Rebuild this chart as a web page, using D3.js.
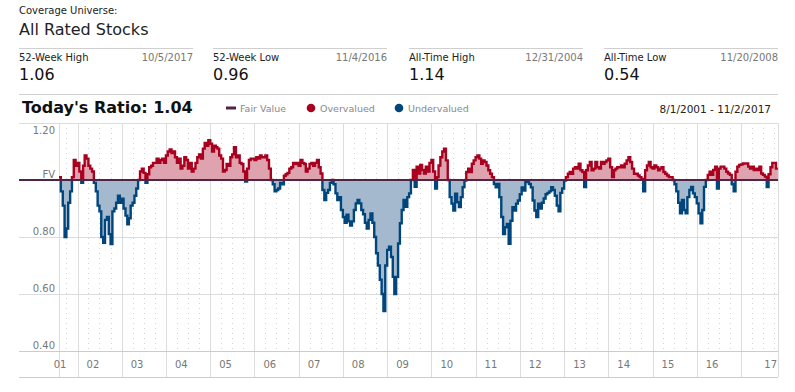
<!DOCTYPE html>
<html><head><meta charset="utf-8">
<script src="https://cdn.jsdelivr.net/npm/d3@7"></script>
<style>
body{margin:0;background:#fff;}
svg text{font-family:"DejaVu Sans",Verdana,sans-serif;}
</style></head><body>
<svg id="c" width="795" height="392"></svg>
<script>
// ---------- data ----------
const universeLabel = "Coverage Universe:";
const universeName = "All Rated Stocks";
const statLabels = ["52-Week High", "52-Week Low", "All-Time High", "All-Time Low"];
const statDates = ["10/5/2017", "11/4/2016", "12/31/2004", "11/20/2008"];
const statValues = ["1.06", "0.96", "1.14", "0.54"];
const todayRatio = "1.04";
const legendLabels = ["Fair Value", "Overvalued", "Undervalued"];
const dateRange = "8/1/2001 - 11/2/2017";
const yTicks = [1.2, 1.0, 0.8, 0.6, 0.4];
const yTickLabels = ["1.20", "FV", "0.80", "0.60", "0.40"];
const yearTicks = [2001,2002,2003,2004,2005,2006,2007,2008,2009,2010,2011,2012,2013,2014,2015,2016,2017];
const yearLabels = ["01","02","03","04","05","06","07","08","09","10","11","12","13","14","15","16","17"];

// semi-monthly ratio readings (1st and 16th of each month)
const ratio2001 = [1.01,0.96,0.91,0.80,0.83,0.92,0.96,1.01,1.07,1.05]; // from Aug
const ratio2002 = [1.06,1.03,0.99,1.05,1.086,1.075,1.05,1.04,1.03,0.99,0.96,0.91,0.89,0.80,0.78,0.86,0.87,0.81,0.775,0.89,0.90,0.92,0.945,0.92];
const ratio2003 = [0.934,0.90,0.875,0.845,0.866,0.91,0.92,0.945,0.97,1.0,1.03,1.04,1.025,0.99,1.02,1.045,1.05,1.06,1.06,1.075,1.06,1.07,1.075,1.06];
const ratio2004 = [1.086,1.10,1.107,1.095,1.10,1.08,1.06,1.075,1.04,1.05,1.08,1.07,1.04,1.06,1.03,1.04,1.06,1.08,1.09,1.075,1.11,1.13,1.12,1.14];
const ratio2005 = [1.127,1.10,1.12,1.115,1.11,1.086,1.075,1.03,1.035,1.056,1.05,1.08,1.09,1.115,1.08,1.086,1.06,1.056,1.03,0.995,1.04,1.07,1.075,1.075];
const ratio2006 = [1.07,1.08,1.075,1.086,1.08,1.08,1.086,1.07,1.04,1.0,0.985,0.96,0.965,0.97,0.99,0.985,1.015,1.02,1.025,1.04,1.045,1.06,1.056,1.06];
const ratio2007 = [1.05,1.07,1.06,1.056,1.03,1.04,1.056,1.06,1.05,1.06,1.07,1.045,1.023,0.965,0.93,0.955,0.965,0.99,1.0,0.985,0.953,0.93,0.94,0.895];
const ratio2008 = [0.87,0.85,0.878,0.855,0.84,0.855,0.895,0.918,0.93,0.918,0.895,0.88,0.85,0.83,0.86,0.883,0.85,0.80,0.743,0.70,0.65,0.60,0.54,0.70];
const ratio2009 = [0.755,0.766,0.73,0.66,0.60,0.66,0.777,0.848,0.895,0.93,0.906,0.94,0.953,1.0,1.035,0.976,1.047,1.023,1.053,1.035,1.023,1.047,1.03,1.06];
const ratio2010 = [1.07,1.03,0.97,1.01,1.051,1.08,1.10,1.11,1.069,1.0,0.94,0.917,0.893,0.952,0.922,0.905,0.94,0.975,0.998,1.028,1.04,1.028,1.057,1.069];
const ratio2011 = [1.08,1.086,1.075,1.057,1.069,1.063,1.051,1.034,1.022,1.01,0.986,0.974,0.986,0.94,0.87,0.81,0.834,0.846,0.776,0.857,0.905,0.893,0.917,0.928];
const ratio2012 = [0.95,0.974,0.963,0.993,0.998,0.986,0.974,0.928,0.893,0.87,0.917,0.90,0.92,0.935,0.95,0.955,0.96,0.975,0.965,0.945,0.91,0.89,0.955,0.97];
const ratio2013 = [0.998,1.01,1.022,1.028,1.022,1.04,1.045,1.04,1.057,1.034,1.028,0.975,1.034,1.051,1.063,1.034,1.04,1.063,1.045,1.04,1.063,1.057,1.063,1.069];
const ratio2014 = [1.075,1.045,1.01,1.034,1.04,1.045,1.045,1.051,1.045,1.057,1.069,1.08,1.063,1.04,1.022,1.022,1.016,1.01,1.004,0.96,1.034,1.051,1.063,1.045];
const ratio2015 = [1.04,1.051,1.045,1.034,1.04,1.045,1.028,1.022,1.016,1.01,1.01,1.0,0.985,0.96,0.92,0.883,0.93,0.895,0.883,0.94,0.965,0.976,0.953,0.94];
const ratio2016 = [0.918,0.883,0.848,0.895,0.976,1.0,1.018,1.029,1.018,1.035,1.047,0.97,1.04,1.047,1.047,1.04,1.029,1.023,1.018,0.985,0.96,1.029,1.047,1.053];
const ratio2017 = [1.055,1.058,1.058,1.058,1.047,1.04,1.047,1.035,1.04,1.035,1.047,1.023,1.018,1.012,0.975,1.02,1.045,1.06,1.06,1.04,1.04]; // to Nov 1

const yearSeries = [
  [2001, 7, ratio2001],[2002, 0, ratio2002],[2003, 0, ratio2003],[2004, 0, ratio2004],
  [2005, 0, ratio2005],[2006, 0, ratio2006],[2007, 0, ratio2007],[2008, 0, ratio2008],
  [2009, 0, ratio2009],[2010, 0, ratio2010],[2011, 0, ratio2011],[2012, 0, ratio2012],
  [2013, 0, ratio2013],[2014, 0, ratio2014],[2015, 0, ratio2015],[2016, 0, ratio2016],
  [2017, 0, ratio2017]
];
const data = yearSeries.flatMap(([yr, m0, arr]) =>
  arr.map((v, i) => ({date: new Date(yr, m0 + Math.floor(i / 2), i % 2 ? 16 : 1), v})));

// ---------- chart ----------
const svg = d3.select("#c");
const startDate = new Date(2001, 7, 1), endDate = new Date(2017, 10, 2);
const L = 59, R = 778, T = 123, B = 351, BB = 377, XL = 19;
const x = d3.scaleTime().domain([startDate, endDate]).range([L, R]);
const y = d3.scaleLinear().domain([0.4, 1.2]).range([B, T]);
const px = v => Math.round(v) + 0.5;

// header
svg.append("text").attr("x", XL).attr("y", 14).attr("font-size", 10).attr("fill", "#222").text(universeLabel);
svg.append("text").attr("x", XL).attr("y", 35).attr("font-size", 16).attr("fill", "#222").text(universeName);
const blockX = [19, 213, 409, 604], blockW = 174;
statLabels.forEach((lab, i) => {
  const bx = blockX[i];
  svg.append("line").attr("x1", bx).attr("x2", bx + blockW).attr("y1", 48.5).attr("y2", 48.5).attr("stroke", "#cfcfcf");
  svg.append("text").attr("x", bx).attr("y", 61).attr("font-size", 10).attr("fill", "#222").text(lab);
  svg.append("text").attr("x", bx + blockW).attr("y", 61).attr("font-size", 10).attr("fill", "#777").attr("text-anchor", "end").text(statDates[i]);
  svg.append("text").attr("x", bx).attr("y", 80).attr("font-size", 16).attr("fill", "#111").text(statValues[i]);
});
svg.append("line").attr("x1", XL).attr("x2", R).attr("y1", 94.5).attr("y2", 94.5).attr("stroke", "#cfcfcf");

svg.append("text").attr("x", 22).attr("y", 113).attr("font-size", 16).attr("font-weight", "bold").attr("fill", "#111").text("Today's Ratio: " + todayRatio);

// legend
const colFV = "#4f2446", colRed = "#a9001f", colBlue = "#00467d";
const colPink = "#dea3ae", colLightBlue = "#a4b9cd";
svg.append("line").attr("x1", 226).attr("x2", 236).attr("y1", 108).attr("y2", 108).attr("stroke", colFV).attr("stroke-width", 3);
svg.append("text").attr("x", 240).attr("y", 112).attr("font-size", 9.5).attr("fill", "#888").text(legendLabels[0]);
svg.append("circle").attr("cx", 311).attr("cy", 108).attr("r", 4.3).attr("fill", colRed);
svg.append("text").attr("x", 320).attr("y", 112).attr("font-size", 9.5).attr("fill", "#888").text(legendLabels[1]);
svg.append("circle").attr("cx", 399).attr("cy", 108).attr("r", 4.3).attr("fill", colBlue);
svg.append("text").attr("x", 408).attr("y", 112).attr("font-size", 9.5).attr("fill", "#888").text(legendLabels[2]);
svg.append("text").attr("x", 771).attr("y", 113).attr("font-size", 10.5).attr("fill", "#222").attr("text-anchor", "end").text(dateRange);

// grid: quarterly dotted lines
const quarters = d3.timeMonth.every(3).range(startDate, endDate).filter(d => d.getMonth() !== 0);
svg.append("g").selectAll("line").data(quarters).join("line")
  .attr("x1", d => px(x(d))).attr("x2", d => px(x(d))).attr("y1", T).attr("y2", B)
  .attr("stroke", "#d4d4d4").attr("stroke-dasharray", "1,4");
// year lines
const yearDates = [startDate].concat(d3.timeYear.range(new Date(2002,0,1), endDate));
svg.append("g").selectAll("line").data(yearDates).join("line")
  .attr("x1", d => px(x(d))).attr("x2", d => px(x(d))).attr("y1", T).attr("y2", BB)
  .attr("stroke", "#dcdcdc");
svg.append("line").attr("x1", R + 0.5).attr("x2", R + 0.5).attr("y1", T).attr("y2", BB).attr("stroke", "#dcdcdc");
// horizontal grid
svg.append("g").selectAll("line").data(yTicks.filter(v => v !== 1.0)).join("line")
  .attr("x1", XL).attr("x2", R).attr("y1", d => px(y(d))).attr("y2", d => px(y(d)))
  .attr("stroke", d => d === 0.4 ? "#cccccc" : "#dcdcdc");
svg.append("line").attr("x1", XL).attr("x2", R).attr("y1", BB + 0.5).attr("y2", BB + 0.5).attr("stroke", "#cccccc");

// y labels
svg.append("g").selectAll("text").data(yTicks).join("text")
  .attr("x", 55).attr("text-anchor", "end").attr("font-size", 10).attr("fill", "#777")
  .attr("y", d => d === 1.2 ? y(d) + 10.5 : y(d) - 2.5)
  .text((d, i) => yTickLabels[i]);

// x labels
svg.append("g").selectAll("text").data(yearTicks).join("text")
  .attr("font-size", 10).attr("fill", "#777").attr("y", 368)
  .attr("x", (d, i) => i === 0 ? x(startDate) + 1 : (i === yearTicks.length - 1 ? R - 1 : x(new Date(d, 0, 1)) + 9))
  .attr("text-anchor", (d, i) => i === 0 ? "middle" : (i === yearTicks.length - 1 ? "end" : "start"))
  .text((d, i) => yearLabels[i]);

// clip paths
const defs = svg.append("defs");
const yFV = y(1.0);
defs.append("clipPath").attr("id", "above").append("rect").attr("x", L).attr("y", T - 10).attr("width", R - L).attr("height", yFV - T + 10);
defs.append("clipPath").attr("id", "below").append("rect").attr("x", L).attr("y", yFV).attr("width", R - L).attr("height", B - yFV + 10);

const area = d3.area().curve(d3.curveStepAfter).x(d => x(d.date)).y0(yFV).y1(d => y(d.v));
const line = d3.line().curve(d3.curveStepAfter).x(d => x(d.date)).y(d => y(d.v));

svg.append("path").datum(data).attr("d", area).attr("fill", colPink).attr("clip-path", "url(#above)");
svg.append("path").datum(data).attr("d", area).attr("fill", colLightBlue).attr("clip-path", "url(#below)");
svg.append("path").datum(data).attr("d", line).attr("fill", "none").attr("stroke", colRed).attr("stroke-width", 2.4).attr("clip-path", "url(#above)");
svg.append("path").datum(data).attr("d", line).attr("fill", "none").attr("stroke", colBlue).attr("stroke-width", 2.4).attr("clip-path", "url(#below)");

// fair value line
svg.append("line").attr("x1", XL).attr("x2", R).attr("y1", yFV).attr("y2", yFV).attr("stroke", colFV).attr("stroke-width", 2.2);
</script>
</body></html>
